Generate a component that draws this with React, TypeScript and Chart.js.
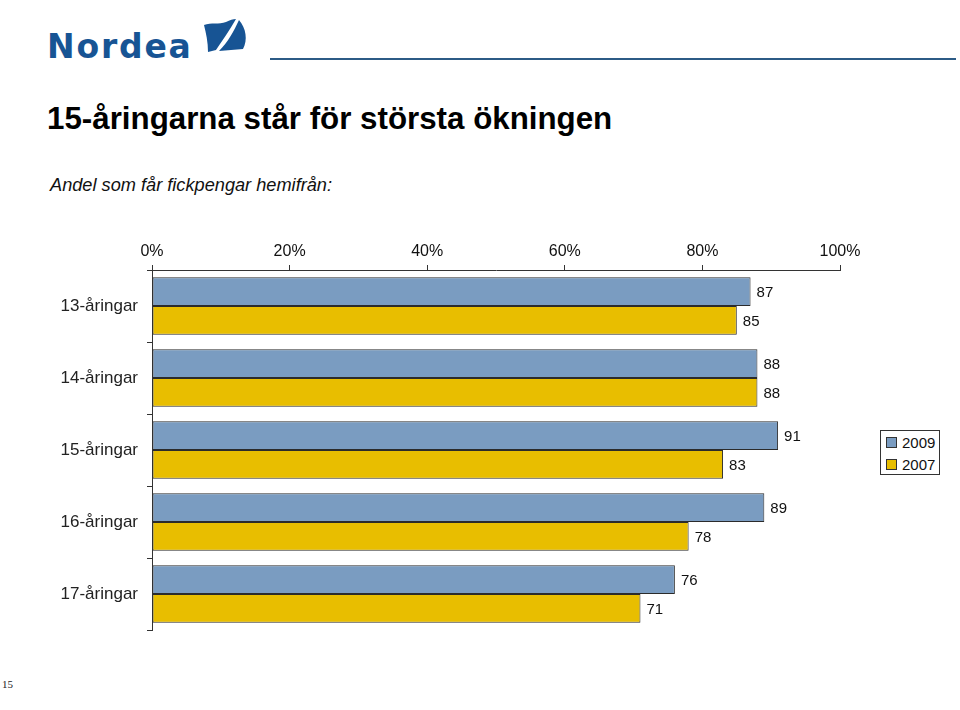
import React, { useEffect, useRef } from "react";
import { Chart, registerables } from "chart.js";

Chart.register(...registerables);

const categories = ["13-åringar", "14-åringar", "15-åringar", "16-åringar", "17-åringar"];
const series2009 = [87, 88, 91, 89, 76];
const series2007 = [85, 88, 83, 78, 71];
const seriesLabels = ["2009", "2007"];
const xMin = 0;
const xMax = 100;
const xStep = 20;

const FONT = '"Liberation Sans", Arial, Helvetica, sans-serif';
const BLUE = "#7a9cc1";
const YELLOW = "#e8be00";
const EDGE = "#2b2b2b";
const LOGO = "#175494";

const valueLabels = {
  id: "valueLabels",
  afterDatasetsDraw(chart: any) {
    const ctx = chart.ctx;
    ctx.save();
    ctx.font = `15px ${FONT}`;
    ctx.fillStyle = "#111";
    ctx.textAlign = "left";
    ctx.textBaseline = "middle";
    chart.data.datasets.forEach((ds: any, di: number) => {
      const meta = chart.getDatasetMeta(di);
      meta.data.forEach((el: any, i: number) => {
        ctx.fillText(String(ds.data[i]), el.x + 6, el.y + 1);
      });
    });
    ctx.restore();
  },
};

function BarChart() {
  const ref = useRef<HTMLCanvasElement | null>(null);
  useEffect(() => {
    if (!ref.current) return;
    const chart = new Chart(ref.current, {
      type: "bar",
      data: {
        labels: categories,
        datasets: [
          {
            label: seriesLabels[0],
            data: series2009,
            backgroundColor: BLUE,
            borderColor: EDGE,
            borderWidth: 1,
            borderSkipped: false,
            categoryPercentage: 0.8,
            barPercentage: 1,
          },
          {
            label: seriesLabels[1],
            data: series2007,
            backgroundColor: YELLOW,
            borderColor: EDGE,
            borderWidth: 1,
            borderSkipped: false,
            categoryPercentage: 0.8,
            barPercentage: 1,
          },
        ],
      },
      options: {
        indexAxis: "y",
        animation: false,
        responsive: false,
        maintainAspectRatio: false,
        devicePixelRatio: 1,
        layout: { padding: { left: 0, right: 120, top: 0, bottom: 30 } },
        plugins: { legend: { display: false }, tooltip: { enabled: false } },
        scales: {
          x: {
            type: "linear",
            position: "top",
            min: xMin,
            max: xMax,
            ticks: {
              stepSize: xStep,
              callback: (v: any) => `${v}%`,
              font: { family: FONT, size: 16 },
              color: "#111",
              padding: 4,
            },
            grid: { drawOnChartArea: false, drawTicks: true, tickLength: 5, color: "#333" },
            border: { display: true, color: "#333", width: 1 },
            afterFit: (s: any) => {
              s.height = 70;
            },
          },
          y: {
            ticks: { font: { family: FONT, size: 17 }, color: "#222", padding: 9 },
            grid: { drawOnChartArea: false, drawTicks: true, tickLength: 5, color: "#333", offset: true },
            border: { display: true, color: "#333", width: 1 },
            afterFit: (s: any) => {
              s.width = 152;
            },
          },
        },
      },
      plugins: [valueLabels],
    } as any);
    return () => chart.destroy();
  }, []);
  return (
    <canvas
      ref={ref}
      width={960}
      height={460}
      style={{ position: "absolute", left: 0, top: 200, width: 960, height: 460 }}
    />
  );
}

export default function App() {
  return (
    <div
      style={{
        position: "absolute",
        left: 0,
        top: 0,
        width: 960,
        height: 710,
        background: "#fff",
        overflow: "hidden",
        fontFamily: FONT,
      }}
    >
      {/* Logo */}
      <div
        style={{
          position: "absolute",
          left: 47,
          top: 30,
          fontFamily: '"DejaVu Sans", Verdana, sans-serif',
          fontWeight: "bold",
          fontSize: 33,
          lineHeight: 1,
          letterSpacing: 1.8,
          color: LOGO,
          whiteSpace: "nowrap",
        }}
      >
        Nordea
      </div>
      <svg
        width={960}
        height={80}
        style={{ position: "absolute", left: 0, top: 0, pointerEvents: "none" }}
      >
        <path
          d="M204,25 C211,22 219,25 226,22 C230,20 233,19 236,19 C229,31 222,41 216,50 L208,52 C208,42 206,33 204,25 Z"
          fill={LOGO}
        />
        <path
          d="M239,20 C246,28 248,40 243,49 L219,51 C228,42 234,31 239,20 Z"
          fill={LOGO}
        />
      </svg>
      <div
        style={{
          position: "absolute",
          left: 270,
          top: 58,
          width: 686,
          height: 2,
          background: "#2c5b86",
        }}
      />
      {/* Title */}
      <div
        style={{
          position: "absolute",
          left: 47,
          top: 103,
          fontSize: 31.3,
          fontWeight: "bold",
          lineHeight: 1,
          color: "#000",
          whiteSpace: "nowrap",
        }}
      >
        15-åringarna står för största ökningen
      </div>
      <div
        style={{
          position: "absolute",
          left: 50,
          top: 176,
          fontSize: 18.2,
          fontStyle: "italic",
          lineHeight: 1,
          color: "#111",
          whiteSpace: "nowrap",
        }}
      >
        Andel som får fickpengar hemifrån:
      </div>
      <BarChart />
      {/* Legend */}
      <div
        style={{
          position: "absolute",
          left: 880,
          top: 430,
          width: 60,
          height: 45,
          border: "1px solid #333",
          boxSizing: "border-box",
          background: "#fff",
          fontSize: 15,
          color: "#111",
        }}
      >
        {[BLUE, YELLOW].map((c, i) => (
          <div
            key={i}
            style={{
              position: "absolute",
              left: 5,
              top: 3 + i * 22,
              height: 17,
              display: "flex",
              alignItems: "center",
              whiteSpace: "nowrap",
            }}
          >
            <span
              style={{
                display: "inline-block",
                width: 9,
                height: 9,
                background: c,
                border: "1px solid #333",
                marginRight: 5,
              }}
            />
            <span style={{ lineHeight: "17px" }}>{seriesLabels[i]}</span>
          </div>
        ))}
      </div>
      {/* Page number */}
      <div
        style={{
          position: "absolute",
          left: 2,
          top: 679,
          fontFamily: '"Liberation Serif", "DejaVu Serif", serif',
          fontSize: 11,
          lineHeight: 1,
          color: "#222",
        }}
      >
        15
      </div>
    </div>
  );
}
